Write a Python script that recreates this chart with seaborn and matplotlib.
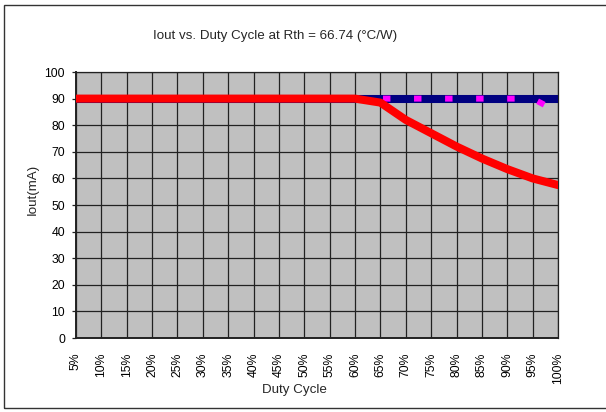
import pandas as pd
import matplotlib
matplotlib.use("Agg")
import matplotlib.pyplot as plt
import seaborn as sns
from matplotlib.patches import Rectangle

# Data
duty_cycle = ["5%", "10%", "15%", "20%", "25%", "30%", "35%", "40%", "45%", "50%",
              "55%", "60%", "65%", "70%", "75%", "80%", "85%", "90%", "95%", "100%"]
iout_max = [90] * 20
iout_limit = [90] * 19 + [85]
iout_actual = [90, 90, 90, 90, 90, 90, 90, 90, 90, 90,
               90, 90, 88.5, 82, 77, 72, 67.5, 63.5, 60, 57.5]

df = pd.DataFrame({"duty": duty_cycle, "max": iout_max,
                   "limit": iout_limit, "actual": iout_actual})

sns.set_theme(style="white")
plt.rcParams["font.family"] = ["Liberation Sans", "DejaVu Sans"]

fig = plt.figure(figsize=(6.06, 4.12), dpi=100)
ax = fig.add_axes([0.1254, 0.1796, 0.7954, 0.6456])
ax.set_facecolor("#c0c0c0")

sns.lineplot(data=df, x="duty", y="max", ax=ax, color="#000080",
             linewidth=5.8, sort=False, zorder=3)
sns.lineplot(data=df, x="duty", y="limit", ax=ax, color="#ff00ff",
             linewidth=4.3, sort=False, zorder=4,
             linestyle=(0.6, (1.25, 3.95)), dash_capstyle="butt")
sns.lineplot(data=df, x="duty", y="actual", ax=ax, color="#ff0000",
             linewidth=5.8, sort=False, zorder=5)

ax.set_xlim(0, len(duty_cycle) - 1)
ax.set_ylim(0, 100)
ax.set_yticks(range(0, 101, 10))
ax.set_xticks(range(len(duty_cycle)))
ax.set_xticklabels(duty_cycle, rotation=90)
ax.grid(True, color="#222222", linewidth=0.9)
ax.set_axisbelow(True)
for s in ax.spines.values():
    s.set_color("#222222")
    s.set_linewidth(0.9)
ax.spines["left"].set_linewidth(1.4)
ax.spines["bottom"].set_linewidth(1.4)

ax.tick_params(axis="y", left=True, length=3, width=0.9, color="#222222",
               labelsize=8.8, pad=5)
ax.tick_params(axis="x", bottom=False, labelsize=8.8, pad=4.5)
for lbl in ax.get_xticklabels() + ax.get_yticklabels():
    lbl.set_color("black")

ax.set_xlabel("")
ax.set_ylabel("")
fig.text(294 / 606, 1 - 390 / 412, "Duty Cycle", ha="center", va="center", fontsize=9.6)
fig.text(33 / 606, 1 - 189 / 412, "Iout(mA)", ha="center", va="center",
         rotation=90, fontsize=9.6)
fig.text(275.5 / 606, 1 - 36 / 412, "Iout vs. Duty Cycle at Rth = 66.74 (°C/W)",
         ha="center", va="center", fontsize=9.6)

# outer chart border
fig.patches.append(Rectangle((4 / 606, 1 - 408 / 412), 1.0, 403 / 412,
                             transform=fig.transFigure, fill=False,
                             edgecolor="#333333", linewidth=1.0))

fig.savefig("out.png", dpi=100)
